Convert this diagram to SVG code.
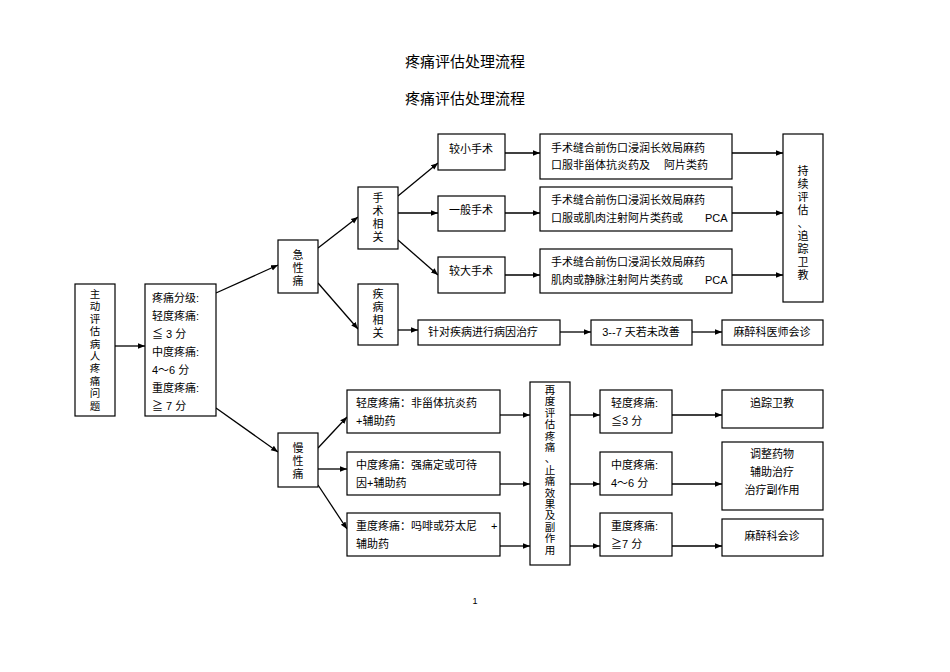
<svg xmlns="http://www.w3.org/2000/svg" width="950" height="672" viewBox="0 0 950 672">
<style>
rect{fill:#fff;stroke:#000;stroke-width:1.2}
text{font-family:"Liberation Sans","Noto Sans CJK SC",sans-serif;font-size:11px;fill:#000}
.t{font-size:15px}
.c{text-anchor:middle}
.s{font-size:10.5px}
line{stroke:#000;stroke-width:1.3;marker-end:url(#a)}
</style>
<defs><marker id="a" viewBox="0 0 10 10" refX="10" refY="5" markerWidth="7" markerHeight="7" markerUnits="userSpaceOnUse" orient="auto"><path d="M0,1L10,5L0,9z" fill="#000"/></marker></defs>
<rect x="0" y="0" width="950" height="672" style="stroke:none"/>
<text class="t c" x="465" y="67">疼痛评估处理流程</text>
<text class="t c" x="465" y="104">疼痛评估处理流程</text>
<g id="connectors">
<line x1="115" y1="346" x2="145" y2="346"/>
<line x1="216" y1="293" x2="278" y2="265"/>
<line x1="216" y1="408" x2="278" y2="452"/>
<line x1="318" y1="248" x2="358" y2="217"/>
<line x1="318" y1="283" x2="358" y2="329"/>
<line x1="398" y1="196" x2="438" y2="163"/>
<line x1="398" y1="213" x2="438" y2="213"/>
<line x1="398" y1="240" x2="438" y2="275"/>
<line x1="505" y1="153" x2="540" y2="153"/>
<line x1="505" y1="213" x2="540" y2="213"/>
<line x1="505" y1="275" x2="540" y2="275"/>
<line x1="732" y1="153" x2="783" y2="153"/>
<line x1="732" y1="213" x2="783" y2="213"/>
<line x1="732" y1="275" x2="783" y2="275"/>
<line x1="398" y1="330" x2="418" y2="330"/>
<line x1="560" y1="332" x2="591" y2="332"/>
<line x1="692" y1="332" x2="722" y2="332"/>
<line x1="318" y1="448" x2="347" y2="417"/>
<line x1="318" y1="469" x2="347" y2="469"/>
<line x1="318" y1="485" x2="347" y2="529"/>
<line x1="500" y1="415" x2="530" y2="415"/>
<line x1="500" y1="484" x2="530" y2="484"/>
<line x1="500" y1="546" x2="530" y2="546"/>
<line x1="570" y1="415" x2="600" y2="415"/>
<line x1="570" y1="484" x2="600" y2="484"/>
<line x1="570" y1="546" x2="600" y2="546"/>
<line x1="672" y1="415" x2="722" y2="415"/>
<line x1="672" y1="484" x2="722" y2="484"/>
<line x1="672" y1="546" x2="722" y2="546"/>
</g>
<g id="n1"><rect x="75" y="284" width="40" height="132"/>
<text class="c s" x="95" y="298">主</text><text class="c s" x="95" y="310.4">动</text><text class="c s" x="95" y="322.8">评</text><text class="c s" x="95" y="335.2">估</text><text class="c s" x="95" y="347.6">病</text><text class="c s" x="95" y="360">人</text><text class="c s" x="95" y="372.4">疼</text><text class="c s" x="95" y="384.8">痛</text><text class="c s" x="95" y="397.2">问</text><text class="c s" x="95" y="409.6">题</text></g>
<g id="n2"><rect x="145" y="284" width="71" height="132"/>
<text x="152" y="302">疼痛分级:</text><text x="152" y="320">轻度疼痛:</text><text x="152" y="338">≦ 3 分</text><text x="152" y="356">中度疼痛:</text><text x="152" y="374">4～6 分</text><text x="152" y="392">重度疼痛:</text><text x="152" y="410">≧ 7 分</text></g>
<g id="n3"><rect x="278" y="240" width="40" height="53"/><text class="c" x="298" y="259">急</text><text class="c" x="298" y="272">性</text><text class="c" x="298" y="285">痛</text></g>
<g id="n4"><rect x="358" y="187" width="40" height="62"/><text class="c" x="378" y="202">手</text><text class="c" x="378" y="215">术</text><text class="c" x="378" y="228">相</text><text class="c" x="378" y="241">关</text></g>
<g id="n5"><rect x="358" y="284" width="40" height="61"/><text class="c" x="378" y="298">疾</text><text class="c" x="378" y="311">病</text><text class="c" x="378" y="324">相</text><text class="c" x="378" y="337">关</text></g>
<g id="n6"><rect x="438" y="134" width="67" height="36"/><text class="c" x="471" y="153">较小手术</text></g>
<g id="n7"><rect x="438" y="196" width="67" height="35"/><text class="c" x="471" y="214">一般手术</text></g>
<g id="n8"><rect x="438" y="257" width="67" height="36"/><text class="c" x="471" y="275">较大手术</text></g>
<g id="n9"><rect x="540" y="134" width="192" height="45"/><text x="551" y="152">手术缝合前伤口浸润长效局麻药</text><text x="551" y="169">口服非甾体抗炎药及　 阿片类药</text></g>
<g id="n10"><rect x="540" y="187" width="192" height="44"/><text x="551" y="204">手术缝合前伤口浸润长效局麻药</text><text x="551" y="222">口服或肌肉注射阿片类药或　　PCA</text></g>
<g id="n11"><rect x="540" y="249" width="192" height="44"/><text x="551" y="266">手术缝合前伤口浸润长效局麻药</text><text x="551" y="284">肌肉或静脉注射阿片类药或　　PCA</text></g>
<g id="n12"><rect x="783" y="134" width="40" height="168"/><text class="c" x="803" y="175">持</text><text class="c" x="803" y="188">续</text><text class="c" x="803" y="201">评</text><text class="c" x="803" y="214">估</text><text class="c" x="803" y="227">、</text><text class="c" x="803" y="240">追</text><text class="c" x="803" y="253">踪</text><text class="c" x="803" y="266">卫</text><text class="c" x="803" y="279">教</text></g>
<g id="n13"><rect x="418" y="320" width="142" height="25"/><text x="428" y="336">针对疾病进行病因治疗</text></g>
<g id="n14"><rect x="591" y="320" width="101" height="25"/><text class="c" x="641" y="336">3--7  天若未改善</text></g>
<g id="n15"><rect x="722" y="320" width="101" height="25"/><text class="c" x="772" y="336">麻醉科医师会诊</text></g>
<g id="n16"><rect x="278" y="433" width="40" height="54"/><text class="c" x="298" y="452">慢</text><text class="c" x="298" y="465">性</text><text class="c" x="298" y="478">痛</text></g>
<g id="n17"><rect x="347" y="390" width="153" height="43"/><text x="356" y="407">轻度疼痛：非甾体抗炎药</text><text x="356" y="425">+辅助药</text></g>
<g id="n18"><rect x="347" y="452" width="153" height="43"/><text x="356" y="469">中度疼痛：强痛定或可待</text><text x="356" y="487">因+辅助药</text></g>
<g id="n19"><rect x="347" y="513" width="153" height="43"/><text x="356" y="530">重度疼痛：吗啡或芬太尼　 +</text><text x="356" y="548">辅助药</text></g>
<g id="n20"><rect x="530" y="382" width="40" height="183"/><text class="c s" x="550" y="394">再</text><text class="c s" x="550" y="405.4">度</text><text class="c s" x="550" y="416.8">评</text><text class="c s" x="550" y="428.2">估</text><text class="c s" x="550" y="439.6">疼</text><text class="c s" x="550" y="451">痛</text><text class="c s" x="550" y="462.4">、</text><text class="c s" x="550" y="473.8">止</text><text class="c s" x="550" y="485.2">痛</text><text class="c s" x="550" y="496.6">效</text><text class="c s" x="550" y="508">果</text><text class="c s" x="550" y="519.4">及</text><text class="c s" x="550" y="530.8">副</text><text class="c s" x="550" y="542.2">作</text><text class="c s" x="550" y="553.6">用</text></g>
<g id="n21"><rect x="600" y="390" width="72" height="43"/><text x="611" y="407">轻度疼痛:</text><text x="611" y="425">≦3 分</text></g>
<g id="n22"><rect x="600" y="452" width="72" height="43"/><text x="611" y="469">中度疼痛:</text><text x="611" y="487">4～6 分</text></g>
<g id="n23"><rect x="600" y="513" width="72" height="43"/><text x="611" y="530">重度疼痛:</text><text x="611" y="548">≧7 分</text></g>
<g id="n24"><rect x="722" y="390" width="101" height="38"/><text class="c" x="772" y="407">追踪卫教</text></g>
<g id="n25"><rect x="722" y="442" width="101" height="68"/><text class="c" x="772" y="458">调整药物</text><text class="c" x="772" y="476">辅助治疗</text><text class="c" x="772" y="494">治疗副作用</text></g>
<g id="n26"><rect x="722" y="519" width="101" height="37"/><text class="c" x="772" y="540">麻醉科会诊</text></g>
<text class="c" x="475" y="604" style="font-size:9px">1</text>
</svg>
